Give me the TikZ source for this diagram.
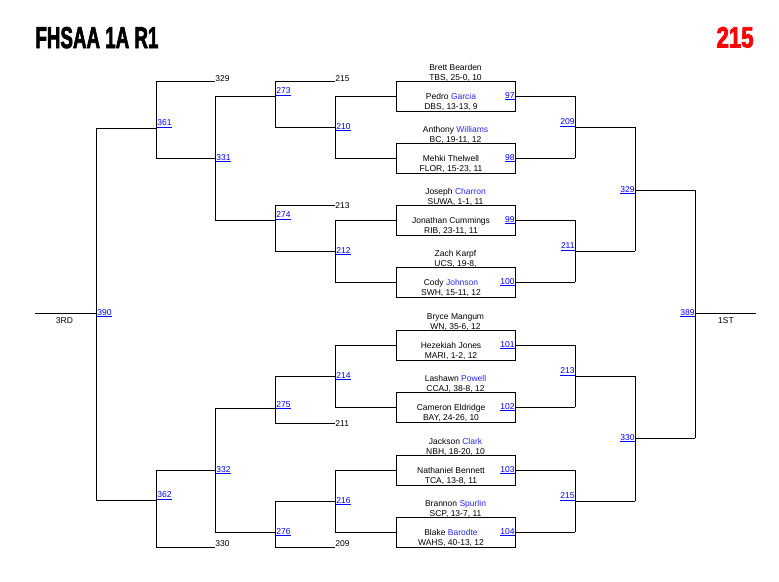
\documentclass[tikz,border=0pt]{standalone}
\usepackage{fontspec}
\usepackage{graphicx}
\setmainfont{Liberation Sans}
\newfontfamily\titlefont{Liberation Sans}[BoldFeatures={FakeBold=3}]
\definecolor{lnkblue}{RGB}{0,0,255}
\definecolor{nameblue}{RGB}{40,40,255}
\definecolor{titlered}{RGB}{255,0,0}
\newcommand{\lk}[1]{\textcolor{lnkblue}{\underline{#1}}}
\newcommand{\bn}[1]{\textcolor{nameblue}{#1}}
\begin{document}
\begin{tikzpicture}[x=1pt,y=-1pt,line width=0.9pt,line join=miter,
  box/.style={draw,minimum width=119pt,minimum height=30pt,inner sep=0pt},
  tx/.style={inner sep=0pt,font=\fontsize{8.5}{10}\selectfont},
  lr/.style={tx,anchor=base east},
  ll/.style={tx,anchor=base west},
  wire/.style={draw,line width=0.9pt}]
\useasboundingbox (0,0) rectangle (779,581);

% title
\node[inner sep=0pt,anchor=base west] (title) at (35,48) {\resizebox{123pt}{21pt}{\titlefont\bfseries FHSAA 1A R1}};
\node[inner sep=0pt,anchor=base east] (num) at (754,47.5) {\resizebox{37pt}{20.5pt}{\color{titlered}\titlefont\bfseries 215}};

% boxes and players
\foreach \i/\m/\ta/\tb/\sa/\sb in {
 1/96/{Brett Bearden}/{TBS, 25-0, 10}/{Pedro \bn{Garcia}}/{DBS, 13-13, 9},
 2/158/{Anthony \bn{Williams}}/{BC, 19-11, 12}/{Mehki Thelwell}/{FLOR, 15-23, 11},
 3/220/{Joseph \bn{Charron}}/{SUWA, 1-1, 11}/{Jonathan Cummings}/{RIB, 23-11, 11},
 4/282/{Zach Karpf}/{UCS, 19-8,}/{Cody \bn{Johnson}}/{SWH, 15-11, 12},
 5/345/{Bryce Mangum}/{WN, 35-6, 12}/{Hezekiah Jones}/{MARI, 1-2, 12},
 6/407/{Lashawn \bn{Powell}}/{CCAJ, 38-8, 12}/{Cameron Eldridge}/{BAY, 24-26, 10},
 7/470/{Jackson \bn{Clark}}/{NBH, 18-20, 10}/{Nathaniel Bennett}/{TCA, 13-8, 11},
 8/532/{Brannon \bn{Spurlin}}/{SCP, 13-7, 11}/{Blake \bn{Barodte}}/{WAHS, 40-13, 12}} {
  \node[box] (B\i) at (455.5,\m) {};
  \node[tx,anchor=base] (T\i a) at (455.5,\m-26) {\ta};
  \node[tx,anchor=base] (T\i b) at (455.5,\m-16) {\tb};
  \node[tx,anchor=base] (S\i a) at (451,\m+3.5) {\sa};
  \node[tx,anchor=base] (S\i b) at (451,\m+13.5) {\sb};
  \coordinate (P\i) at (335,\m);
  \coordinate (Q\i) at (575,\m);
  \draw (B\i.west) -- (P\i);
  \draw (B\i.east) -- (Q\i);
}

% ---------- right side ----------
\coordinate (a209) at (575,127); \coordinate (b209) at (635,127);
\coordinate (a211) at (575,251); \coordinate (b211) at (635,251);
\coordinate (a213) at (575,376); \coordinate (b213) at (635,376);
\coordinate (a215) at (575,501); \coordinate (b215) at (635,501);
\coordinate (a329) at (635,190); \coordinate (b329) at (695,190);
\coordinate (a330) at (635,438); \coordinate (b330) at (695,438);
\coordinate (a389) at (695,313); \coordinate (b389) at (756,313);

\draw (Q1) -- (Q2); \draw (Q3) -- (Q4); \draw (Q5) -- (Q6); \draw (Q7) -- (Q8);
\draw (a209) -- (b209); \draw (a211) -- (b211); \draw (a213) -- (b213); \draw (a215) -- (b215);
\draw (b209) -- (b211); \draw (b213) -- (b215);
\draw (a329) -- (b329); \draw (a330) -- (b330);
\draw (b329) -- (b330);
\draw (a389) -- (b389);

\node[lr] (L97) at (515,98) {\lk{97}};
\node[lr] (L98) at (515,160) {\lk{98}};
\node[lr] (L99) at (515,222) {\lk{99}};
\node[lr] (L100) at (515,284) {\lk{100}};
\node[lr] (L101) at (515,347) {\lk{101}};
\node[lr] (L102) at (515,409) {\lk{102}};
\node[lr] (L103) at (515,472) {\lk{103}};
\node[lr] (L104) at (515,534) {\lk{104}};
\node[lr] (L209) at (575,124.5) {\lk{209}};
\node[lr] (L211) at (575,248.5) {\lk{211}};
\node[lr] (L213) at (575,373.5) {\lk{213}};
\node[lr] (L215) at (575,498.5) {\lk{215}};
\node[lr] (L329) at (635,192) {\lk{329}};
\node[lr] (L330) at (635,440) {\lk{330}};
\node[lr] (L389) at (695,315) {\lk{389}};
\node[tx,anchor=base] (first) at (726,323) {1ST};

% ---------- left side ----------
\coordinate (a210) at (335,127); \coordinate (b210) at (275,127);
\coordinate (a212) at (335,251); \coordinate (b212) at (275,251);
\coordinate (a214) at (335,376); \coordinate (b214) at (275,376);
\coordinate (a216) at (335,501); \coordinate (b216) at (275,501);
\coordinate (f215) at (335,81);  \coordinate (g215) at (275,81);
\coordinate (f213) at (335,205); \coordinate (g213) at (275,205);
\coordinate (f211) at (335,423); \coordinate (g211) at (275,423);
\coordinate (f209) at (335,547); \coordinate (g209) at (275,547);
\coordinate (a273) at (275,96);  \coordinate (b273) at (215,96);
\coordinate (a274) at (275,220); \coordinate (b274) at (215,220);
\coordinate (a275) at (275,408); \coordinate (b275) at (215,408);
\coordinate (a276) at (275,532); \coordinate (b276) at (215,532);
\coordinate (f329) at (215,81);  \coordinate (g329) at (156,81);
\coordinate (f330) at (215,547); \coordinate (g330) at (156,547);
\coordinate (a331) at (215,158); \coordinate (b331) at (156,158);
\coordinate (a332) at (215,470); \coordinate (b332) at (156,470);
\coordinate (a361) at (156,128); \coordinate (b361) at (96,128);
\coordinate (a362) at (156,500); \coordinate (b362) at (96,500);
\coordinate (a390) at (96,313);  \coordinate (b390) at (35,313);

\draw (P1) -- (P2); \draw (P3) -- (P4); \draw (P5) -- (P6); \draw (P7) -- (P8);
\draw (a210) -- (b210); \draw (a212) -- (b212); \draw (a214) -- (b214); \draw (a216) -- (b216);
\draw (f215) -- (g215); \draw (f213) -- (g213); \draw (f211) -- (g211); \draw (f209) -- (g209);
\draw (g215) -- (b210); \draw (g213) -- (b212); \draw (b214) -- (g211); \draw (b216) -- (g209);
\draw (a273) -- (b273); \draw (a274) -- (b274); \draw (a275) -- (b275); \draw (a276) -- (b276);
\draw (b273) -- (b274); \draw (b275) -- (b276);
\draw (f329) -- (g329); \draw (f330) -- (g330);
\draw (a331) -- (b331); \draw (a332) -- (b332);
\draw (g329) -- (b331); \draw (b332) -- (g330);
\draw (a361) -- (b361); \draw (a362) -- (b362);
\draw (b361) -- (b362);
\draw (a390) -- (b390);

\node[ll] (L210) at (336,129) {\lk{210}};
\node[ll] (L212) at (336,253) {\lk{212}};
\node[ll] (L214) at (336,378) {\lk{214}};
\node[ll] (L216) at (336,503) {\lk{216}};
\node[ll] (L273) at (276,93.5) {\lk{273}};
\node[ll] (L274) at (276,217.5) {\lk{274}};
\node[ll] (L275) at (276,407) {\lk{275}};
\node[ll] (L276) at (276,534) {\lk{276}};
\node[ll] (L331) at (216,160) {\lk{331}};
\node[ll] (L332) at (216,472) {\lk{332}};
\node[ll] (L361) at (157,125.5) {\lk{361}};
\node[ll] (L362) at (157,497.5) {\lk{362}};
\node[ll] (L390) at (97,315) {\lk{390}};

\node[ll] (N329) at (215,81) {329};
\node[ll] (N215) at (335,81) {215};
\node[ll] (N213) at (335,208.5) {213};
\node[ll] (N211) at (335,426) {211};
\node[ll] (N330) at (215,546.5) {330};
\node[ll] (N209) at (335,546.5) {209};
\node[tx,anchor=base] (third) at (64.5,323) {3RD};
\end{tikzpicture}
\end{document}
